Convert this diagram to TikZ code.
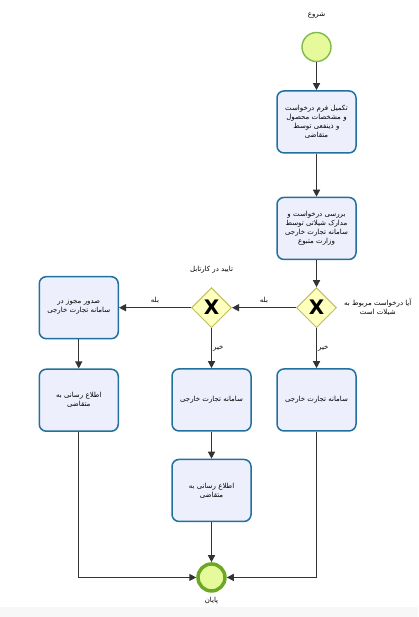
\documentclass[tikz,border=0pt]{standalone}
\usepackage{fontspec}
\newfontfamily\farsi[Script=Arabic]{DejaVu Sans}
\newfontfamily\gatefont{DejaVu Sans}
\TeXXeTstate=1
\newcommand{\fa}[1]{\beginR#1\endR}
\usepackage{tikz}
\usetikzlibrary{positioning, shapes.geometric, arrows.meta}
\definecolor{taskfill}{RGB}{237,240,252}
\definecolor{taskline}{RGB}{34,112,158}
\definecolor{evfill}{RGB}{230,250,155}
\definecolor{startline}{RGB}{128,186,72}
\definecolor{endline}{RGB}{108,168,38}
\definecolor{gatefill}{RGB}{255,255,190}
\definecolor{gateline}{RGB}{190,190,100}
\definecolor{flowcolor}{RGB}{51,51,51}
\definecolor{stripgray}{RGB}{247,247,247}

\begin{document}
\begin{tikzpicture}[x=1pt, y=1pt]
        \tikzstyle{task}=[rectangle, rounded corners=7pt, draw=taskline, line width=1.5pt, fill=taskfill, minimum width=79pt, minimum height=62pt, text width=74pt, align=center, inner sep=2pt, font=\farsi\fontsize{7}{9}\selectfont];
        \tikzstyle{gateway}=[diamond, draw=gateline, line width=1pt, fill=gatefill, minimum width=40pt, minimum height=40pt, inner sep=0pt, font=\gatefont\bfseries\fontsize{20}{20}\selectfont];
        \tikzstyle{startev}=[circle, draw=startline, line width=1.4pt, fill=evfill, minimum size=29pt, inner sep=0pt];
        \tikzstyle{endev}=[circle, draw=endline, line width=3.5pt, fill=evfill, minimum size=27pt, inner sep=0pt];
        \tikzstyle{lbl}=[align=center, inner sep=1pt, font=\farsi\fontsize{7}{9}\selectfont];
        \tikzstyle{flow}=[draw=flowcolor, line width=1.3pt, -{Triangle[length=7pt, width=7pt]}];

        \useasboundingbox (0,0) rectangle (418,-617);
        \fill[stripgray] (0,-607) rectangle (418,-617);

        \node [startev] (start) at (316.5,-47) {};
        \node [task, below=28pt of start] (fill) {\fa{تکمیل فرم درخواست}\\\fa{و مشخصات محصول}\\\fa{و ذینفعی توسط}\\\fa{متقاضی}};
        \node [task, below=43pt of fill] (review) {\fa{بررسی درخواست و}\\\fa{مدارک شیلاتی توسط}\\\fa{سامانه تجارت خارجی}\\\fa{وزارت متبوع}};
        \node [gateway, below=27pt of review] (isfish) {X};
        \node [gateway, left=64pt of isfish] (approve) {X};
        \node [task, left=72pt of approve] (permit) {\fa{صدور مجوز در}\\\fa{سامانه تجارت خارجی}};
        \node [task, below=29pt of permit] (notifyl) {\fa{اطلاع رسانی به}\\\fa{متقاضی}};
        \node [task, below=40pt of approve] (sysm) {\fa{سامانه تجارت خارجی}};
        \node [task, below=40pt of isfish] (sysr) {\fa{سامانه تجارت خارجی}};
        \node [task, below=27pt of sysm] (notifym) {\fa{اطلاع رسانی به}\\\fa{متقاضی}};
        \node [endev, below=40pt of notifym] (stop) {};

        \node [lbl, above=12pt of start] (startlbl) {\fa{شروع}};
        \node [lbl, above=13pt of approve] (approvelbl) {\fa{تایید در کارتابل}};
        \node [lbl, right=6pt of isfish] (isfishlbl) {\fa{آیا درخواست مربوط به}\\\fa{شیلات است}};
        \node [lbl, below=3pt of stop] (stoplbl) {\fa{پایان}};

        \draw [flow] (start) -- (fill);
        \draw [flow] (fill) -- (review);
        \draw [flow] (review) -- (isfish);
        \draw [flow] (isfish) -- node [lbl, above=3pt] {\fa{بله}} (approve);
        \draw [flow] (approve) -- node [lbl, above=3pt] {\fa{بله}} (permit);
        \draw [flow] (permit) -- (notifyl);
        \draw [flow] (approve) -- node [lbl, right, pos=0.5] {\fa{خیر}} (sysm);
        \draw [flow] (isfish) -- node [lbl, right, pos=0.5] {\fa{خیر}} (sysr);
        \draw [flow] (sysm) -- (notifym);
        \draw [flow] (notifym) -- (stop);
        \draw [flow] (notifyl) |- (stop);
        \draw [flow] (sysr) |- (stop);
\end{tikzpicture}
\end{document}
